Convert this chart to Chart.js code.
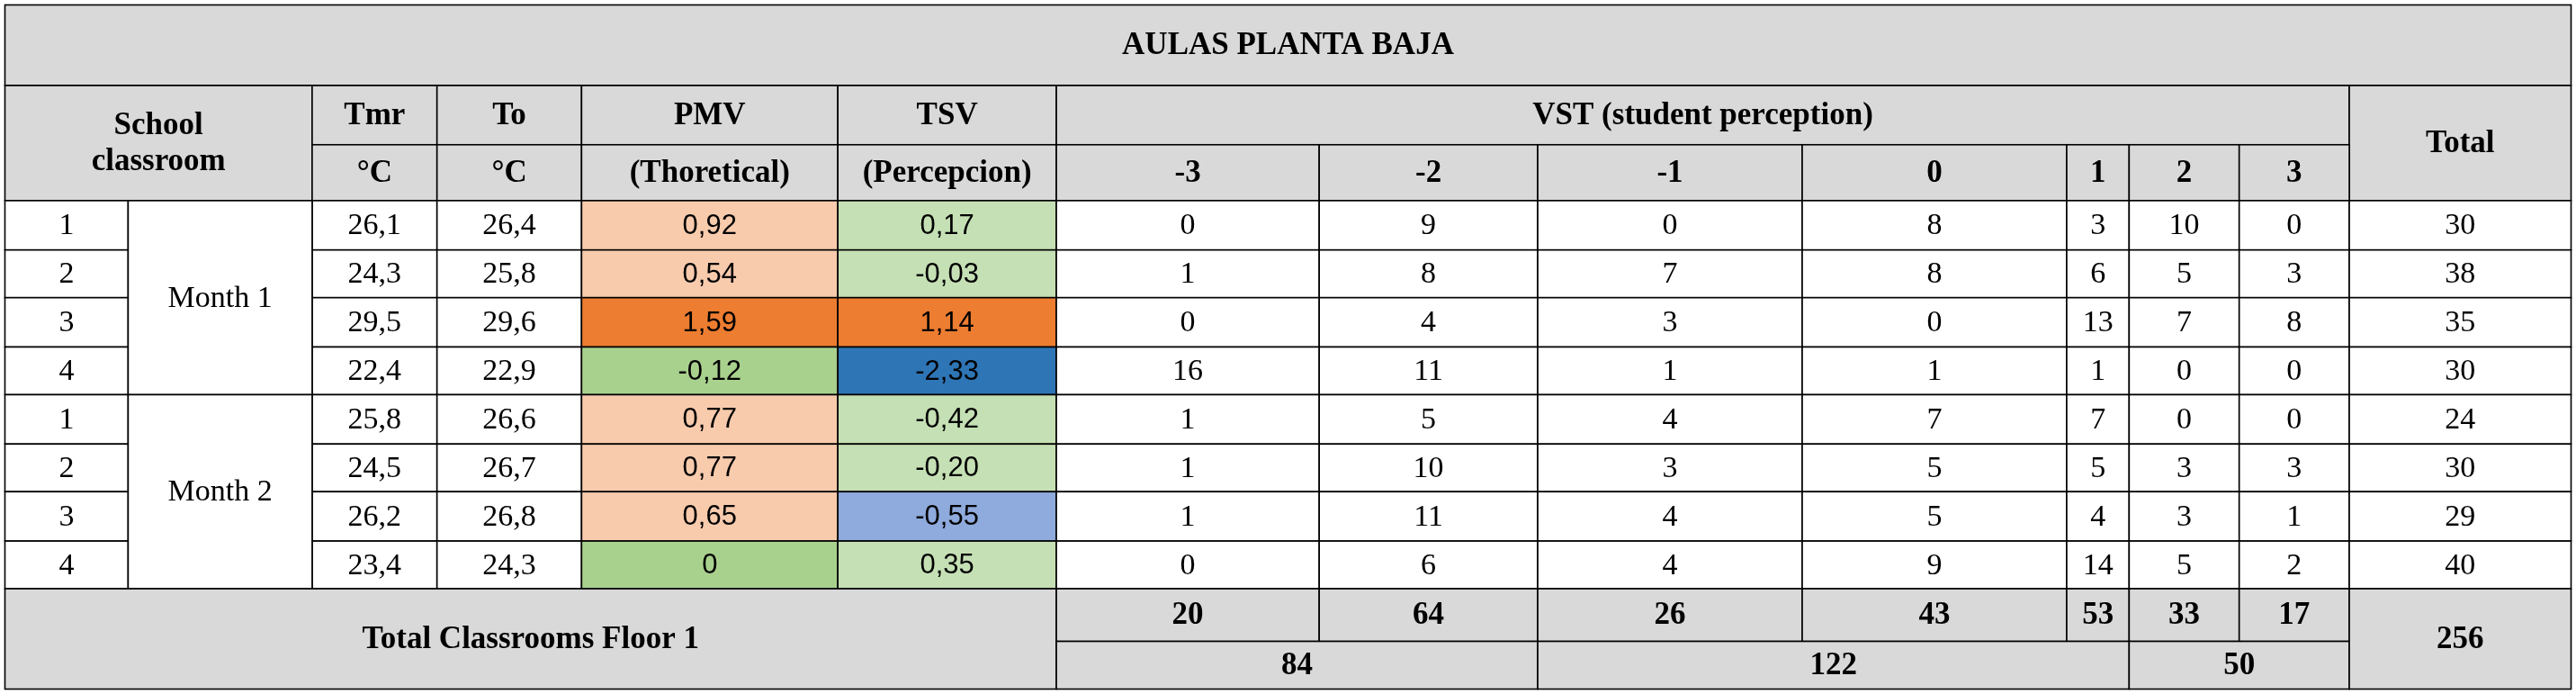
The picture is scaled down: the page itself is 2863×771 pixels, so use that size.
<!DOCTYPE html>
<html>
<head>
<meta charset="utf-8">
<script src="https://cdn.jsdelivr.net/npm/chart.js@4"></script>
<style>
    html, body { margin: 0; padding: 0; background: #fff; }
    #wrap { width: 2863px; height: 771px; }
</style>
</head>
<body>
<div id="wrap"><canvas id="tabel"></canvas></div>
<script>
// datele tabelului
var titlu = 'AULAS PLANTA BAJA';
var clase = ['1', '2', '3', '4', '1', '2', '3', '4'];
var luni = ['Month 1', 'Month 2'];
var tmr = ['26,1', '24,3', '29,5', '22,4', '25,8', '24,5', '26,2', '23,4'];
var to = ['26,4', '25,8', '29,6', '22,9', '26,6', '26,7', '26,8', '24,3'];
var pmv = [0.92, 0.54, 1.59, -0.12, 0.77, 0.77, 0.65, 0];
var tsv = [0.17, -0.03, 1.14, -2.33, -0.42, -0.20, -0.55, 0.35];
var vstLabels = ['-3', '-2', '-1', '0', '1', '2', '3'];
var vst = [
    [0, 9, 0, 8, 3, 10, 0],
    [1, 8, 7, 8, 6, 5, 3],
    [0, 4, 3, 0, 13, 7, 8],
    [16, 11, 1, 1, 1, 0, 0],
    [1, 5, 4, 7, 7, 0, 0],
    [1, 10, 3, 5, 5, 3, 3],
    [1, 11, 4, 5, 4, 3, 1],
    [0, 6, 4, 9, 14, 5, 2]
];
var totaluri = [30, 38, 35, 30, 24, 30, 29, 40];
var totalVst = [20, 64, 26, 43, 53, 33, 17];
var grupe = ['84', '122', '50'];
var totalGeneral = '256';

// granitele coloanelor / randurilor (unitati de scala)
var colX = [3, 78, 190, 266, 354, 510, 643, 803, 936, 1097, 1258, 1296, 1363, 1430, 1565];
var rowY = [3, 52, 88, 122, 152, 181, 211, 240, 270, 299, 329, 358, 390, 419];

function fmt(v) {
    if (v === 0) return '0';
    return v.toFixed(2).replace('.', ',');
}
function culoarePmv(v) {
    if (v >= 1) return '#ed7d31';
    if (v >= 0.5) return '#f8cbad';
    return '#a9d18e';
}
function culoareTsv(v) {
    if (v >= 1) return '#ed7d31';
    if (v <= -2) return '#2e75b6';
    if (v <= -0.5) return '#8faadc';
    return '#c5e0b4';
}

var serif = '"Liberation Serif", "Times New Roman", serif';
var sans = '"Liberation Sans", Arial, sans-serif';

var tabelPlugin = {
    id: 'tabel',
    afterDraw: function (chart) {
        var c = chart.ctx;
        var sx = chart.scales.x, sy = chart.scales.y;
        var k = chart.width / 1568;

        function cell(x0, x1, y0, y1, text, o) {
            o = o || {};
            var px0 = sx.getPixelForValue(x0), px1 = sx.getPixelForValue(x1);
            var py0 = sy.getPixelForValue(y0), py1 = sy.getPixelForValue(y1);
            c.fillStyle = o.bg || '#fff';
            c.fillRect(px0, py0, px1 - px0, py1 - py0);
            c.strokeStyle = '#000';
            c.lineWidth = 1.6;
            c.strokeRect(px0, py0, px1 - px0, py1 - py0);
            if (text !== undefined && text !== null) {
                var sz = o.size || 18.5;
                c.fillStyle = '#000';
                c.font = (o.bold ? 'bold ' : '') + Math.round(sz * k) + 'px ' + (o.font || serif);
                c.textAlign = 'center';
                c.textBaseline = 'middle';
                var lines = String(text).split('\n');
                var lh = sz * k * 1.15;
                var cy = (py0 + py1) / 2 - (lines.length - 1) * lh / 2;
                lines.forEach(function (l, i) {
                    c.fillText(l, (px0 + px1) / 2, cy + i * lh + 1);
                });
            }
        }

        var g = '#d9d9d9';
        var H = {bg: g, bold: true, size: 19};
        // titlu
        cell(colX[0], colX[14], rowY[0], rowY[1], titlu, H);
        // antet
        cell(colX[0], colX[2], rowY[1], rowY[3], 'School\nclassroom', H);
        cell(colX[2], colX[3], rowY[1], rowY[2], 'Tmr', H);
        cell(colX[3], colX[4], rowY[1], rowY[2], 'To', H);
        cell(colX[4], colX[5], rowY[1], rowY[2], 'PMV', H);
        cell(colX[5], colX[6], rowY[1], rowY[2], 'TSV', H);
        cell(colX[6], colX[13], rowY[1], rowY[2], 'VST (student perception)', H);
        cell(colX[13], colX[14], rowY[1], rowY[3], 'Total', H);
        cell(colX[2], colX[3], rowY[2], rowY[3], '°C', H);
        cell(colX[3], colX[4], rowY[2], rowY[3], '°C', H);
        cell(colX[4], colX[5], rowY[2], rowY[3], '(Thoretical)', H);
        cell(colX[5], colX[6], rowY[2], rowY[3], '(Percepcion)', H);
        vstLabels.forEach(function (l, j) {
            cell(colX[6 + j], colX[7 + j], rowY[2], rowY[3], l, H);
        });
        // randuri de date
        for (var i = 0; i < clase.length; i++) {
            var y0 = rowY[3 + i], y1 = rowY[4 + i];
            cell(colX[0], colX[1], y0, y1, clase[i]);
            cell(colX[2], colX[3], y0, y1, tmr[i]);
            cell(colX[3], colX[4], y0, y1, to[i]);
            cell(colX[4], colX[5], y0, y1, fmt(pmv[i]), {bg: culoarePmv(pmv[i]), font: sans, size: 17});
            cell(colX[5], colX[6], y0, y1, fmt(tsv[i]), {bg: culoareTsv(tsv[i]), font: sans, size: 17});
            vst[i].forEach(function (v, j) {
                cell(colX[6 + j], colX[7 + j], y0, y1, v);
            });
            cell(colX[13], colX[14], y0, y1, totaluri[i]);
        }
        luni.forEach(function (m, j) {
            cell(colX[1], colX[2], rowY[3 + j * 4], rowY[7 + j * 4], m);
        });
        // total
        cell(colX[0], colX[6], rowY[11], rowY[13], 'Total Classrooms Floor 1', H);
        totalVst.forEach(function (v, j) {
            cell(colX[6 + j], colX[7 + j], rowY[11], rowY[12], v, H);
        });
        cell(colX[6], colX[8], rowY[12], rowY[13], grupe[0], H);
        cell(colX[8], colX[11], rowY[12], rowY[13], grupe[1], H);
        cell(colX[11], colX[13], rowY[12], rowY[13], grupe[2], H);
        cell(colX[13], colX[14], rowY[11], rowY[13], totalGeneral, H);
    }
};

var ctx = document.getElementById('tabel').getContext('2d');
var myChart = new Chart(ctx, {
    type: 'scatter',
    data: { datasets: [{ data: [] }] },
    options: {
        responsive: true,
        maintainAspectRatio: false,
        animation: false,
        layout: { padding: 0 },
        plugins: { legend: { display: false }, tooltip: { enabled: false } },
        scales: {
            x: { type: 'linear', min: 0, max: 1568, display: false },
            y: { type: 'linear', min: 0, max: 422, reverse: true, display: false }
        }
    },
    plugins: [tabelPlugin]
});
</script>
</body>
</html>
